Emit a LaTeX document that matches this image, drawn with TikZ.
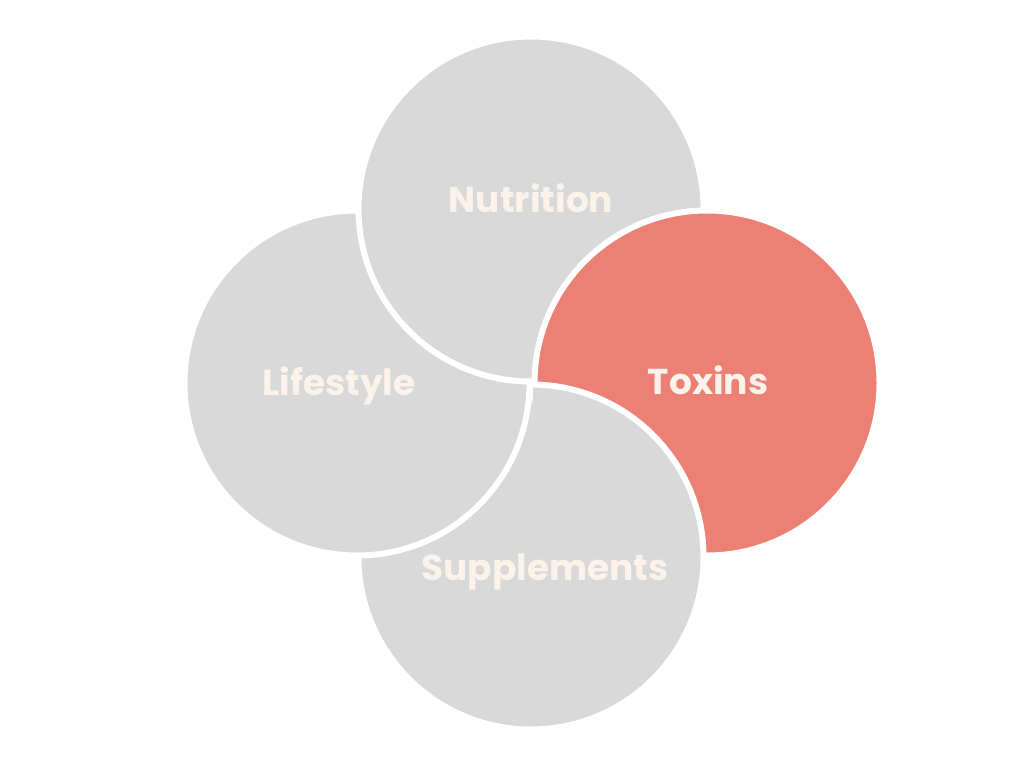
\documentclass[tikz,border=0pt]{standalone}
\usepackage{fontspec}
\setmainfont{Poppins}[BoldFont={* Bold}]
\definecolor{petal}{HTML}{D9D9D9}
\definecolor{accent}{HTML}{EC8074}
\definecolor{labelc}{HTML}{FBF3EA}
\tikzset{
  petal/.style={fill=petal, draw=white, line width=6pt},
  hot/.style={fill=accent, draw=white, line width=6pt},
  lbl/.style={text=labelc, font=\bfseries\fontsize{36}{40}\selectfont, anchor=base, inner sep=0pt}
}
\begin{document}
\begin{tikzpicture}[x=1pt,y=-1pt]
\useasboundingbox (0,0) rectangle (1024,768);
\def\R{172.5}
\coordinate (cs) at (531,557);
\coordinate (cl) at (357,383);
\coordinate (cn) at (531,209);
\coordinate (ct) at (707,383);
% circles in cyclic order
\path[petal] (cs) circle (\R);
\path[petal] (cl) circle (\R);
\path[petal] (cn) circle (\R);
\path[hot] (ct) circle (\R);
% Supplements on top of Toxins where they overlap
\begin{scope}
  \clip (533,0) rectangle (1024,557);
  \path[petal] (cs) circle (\R);
\end{scope}
\node[lbl] (n) at (531,212) {Nutrition};
\node[lbl] (l) at (339,395) {Lifestyle};
\node[lbl] (t) at (708,394) {Toxins};
\node[lbl] (s) at (545,580) {Supplements};
\end{tikzpicture}
\end{document}
